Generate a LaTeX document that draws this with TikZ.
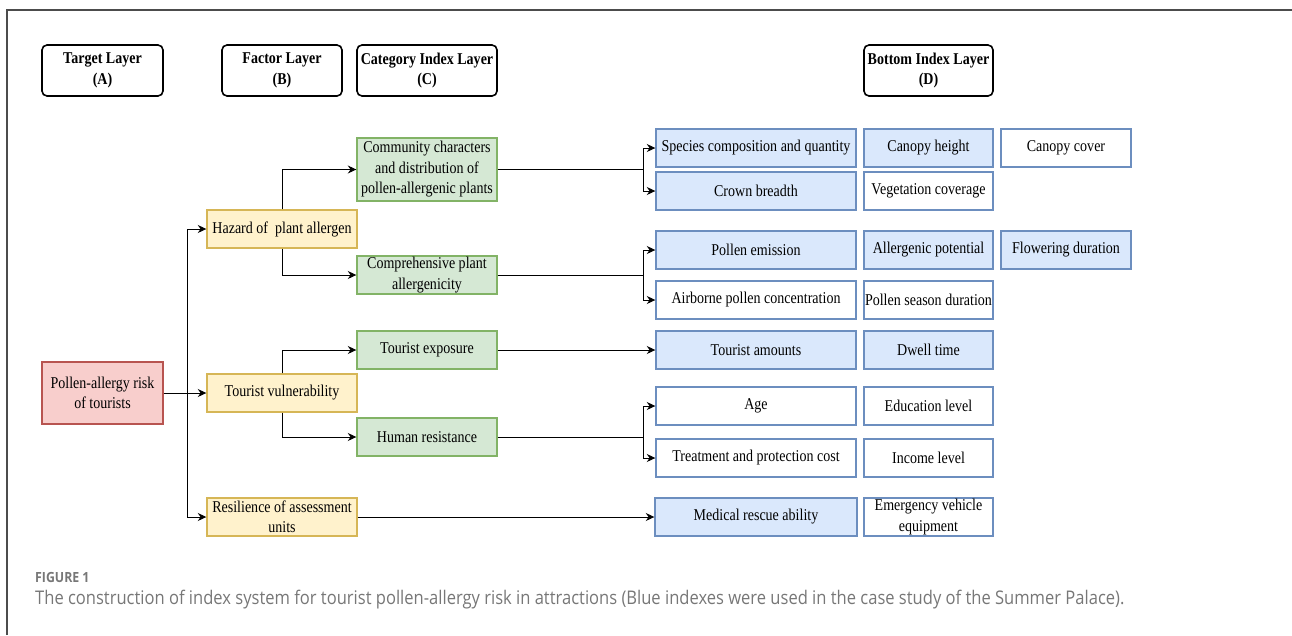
\documentclass[tikz,border=0pt]{standalone}
\usepackage{fontspec}
\setmainfont{Liberation Serif}[FakeStretch=0.85]
\newfontfamily\capfont{Open Sans}[FakeStretch=0.88]
\usetikzlibrary{arrows.meta}

\definecolor{riskfill}{HTML}{F8CECC}
\definecolor{riskline}{HTML}{B85450}
\definecolor{factorfill}{HTML}{FFF2CC}
\definecolor{factorline}{HTML}{D6B656}
\definecolor{catfill}{HTML}{D5E8D4}
\definecolor{catline}{HTML}{82B366}
\definecolor{idxfill}{HTML}{DAE8FC}
\definecolor{idxline}{HTML}{6C8EBF}
\definecolor{capgray}{HTML}{777777}

\begin{document}
\begin{tikzpicture}[
    x=1pt,y=-1pt,font=\fontsize{16.5}{20.5}\selectfont,
    layer head/.style={draw,rounded corners=5pt,line width=1.6pt,align=center,
        font=\bfseries\fontsize{16.5}{20.5}\selectfont,
        minimum width=#1,minimum height=51pt,inner sep=1pt},
    box/.style={draw,line width=1.4pt,align=center,minimum height=38pt,inner sep=1pt},
    target/.style={box,draw=riskline,fill=riskfill,minimum width=121pt,minimum height=62pt},
    factor/.style={box,draw=factorline,fill=factorfill,minimum width=150pt},
    category/.style={box,draw=catline,fill=catfill,minimum width=140pt},
    used index/.style={box,draw=idxline,fill=idxfill,minimum width=#1},
    spare index/.style={box,draw=idxline,fill=white,minimum width=#1},
    link/.style={line width=.9pt},
    arrow/.style={link,-{Stealth[length=8.5pt,width=8pt]}}
]
    \useasboundingbox (0,0) rectangle (1292,635);
    % frame of the figure panel
    \draw[line width=1.2pt,black!70] (7,635) -- (7,10) -- (1292,10);

    % Layer headings A to D.
    \node[layer head=121pt] (headA) at (102.5,70.5) {Target Layer\\(A)};
    \node[layer head=120pt] (headB) at (282,70.5) {Factor Layer\\(B)};
    \node[layer head=140pt] (headC) at (427,70.5) {Category Index Layer\\(C)};
    \node[layer head=129pt] (headD) at (928.5,70.5) {Bottom Index Layer\\(D)};

    % Target and factor layers.
    \node[target] (risk) at (102.5,393) {Pollen-allergy risk\\of tourists};
    \node[factor] (hazard) at (282,229) {Hazard of\ \ plant allergen};
    \node[factor] (vulner) at (282,393) {Tourist vulnerability};
    \node[factor] (resil) at (282,517) {Resilience of assessment\\units};

    % Category index layer.
    \node[category,minimum height=63pt] (commun) at (427,169.5)
        {Community characters\\and distribution of\\pollen-allergenic plants};
    \node[category] (allerg) at (427,275) {Comprehensive plant\\allergenicity};
    \node[category] (expos) at (427,350) {Tourist exposure};
    \node[category] (resist) at (427,437) {Human resistance};

    % Bottom index layer, first column.
    \node[used index=200pt] (species) at (756,148) {Species composition and quantity};
    \node[used index=200pt] (crown) at (756,191) {Crown breadth};
    \node[used index=200pt] (emiss) at (756,250) {Pollen emission};
    \node[spare index=200pt] (airborne) at (756,300) {Airborne pollen concentration};
    \node[used index=200pt] (amount) at (756,350) {Tourist amounts};
    \node[spare index=200pt] (age) at (756,406) {Age};
    \node[spare index=200pt] (treat) at (756,458) {Treatment and protection cost};
    \node[used index=202pt] (rescue) at (756,517) {Medical rescue ability};

    % Bottom index layer, second and third columns.
    \node[used index=129pt] (canheight) at (928.5,148) {Canopy height};
    \node[spare index=130pt] (cancover) at (1066,148) {Canopy cover};
    \node[spare index=129pt] (vegcover) at (928.5,191) {Vegetation coverage};
    \node[used index=129pt] (potential) at (928.5,250) {Allergenic potential};
    \node[used index=130pt] (flower) at (1066,250) {Flowering duration};
    \node[spare index=129pt] (season) at (928.5,300) {Pollen season duration};
    \node[used index=129pt] (dwell) at (928.5,350) {Dwell time};
    \node[spare index=129pt] (educ) at (928.5,406) {Education level};
    \node[spare index=129pt] (income) at (928.5,458) {Income level};
    \node[spare index=129pt] (vehicle) at (928.5,517) {Emergency vehicle\\equipment};

    % A -> B
    \coordinate (fork) at (187,393);
    \draw[arrow] (risk.east) -- (vulner.west);
    \draw[arrow] (fork) |- (hazard.west);
    \draw[arrow] (fork) |- (resil.west);

    % B -> C
    \draw[arrow] (hazard.north) |- (commun.west);
    \draw[arrow] (hazard.south) |- (allerg.west);
    \draw[arrow] (vulner.north) |- (expos.west);
    \draw[arrow] (vulner.south) |- (resist.west);

    % C -> D
    \coordinate (communfork) at (643,169.5);
    \coordinate (allergfork) at (643,275);
    \coordinate (resistfork) at (643,437);
    \draw[link] (commun.east) -- (communfork);
    \draw[arrow] (communfork) |- (species.west);
    \draw[arrow] (communfork) |- (crown.west);
    \draw[link] (allerg.east) -- (allergfork);
    \draw[arrow] (allergfork) |- (emiss.west);
    \draw[arrow] (allergfork) |- (airborne.west);
    \draw[arrow] (expos.east) -- (amount.west);
    \draw[link] (resist.east) -- (resistfork);
    \draw[arrow] (resistfork) |- (age.west);
    \draw[arrow] (resistfork) |- (treat.west);
    \draw[arrow] (resil.east) -- (rescue.west);

    % caption
    \node[anchor=base west,inner sep=0pt,text=capgray,font=\capfont\bfseries\fontsize{14}{16}\selectfont]
        (figlabel) at (35,582) {FIGURE 1};
    \node[anchor=base west,inner sep=0pt,text=capgray,font=\capfont\fontsize{18.8}{22}\selectfont]
        (figcaption) at (35,604) {The construction of index system for tourist pollen-allergy risk in attractions (Blue indexes were used in the case study of the Summer Palace).};
\end{tikzpicture}
\end{document}
